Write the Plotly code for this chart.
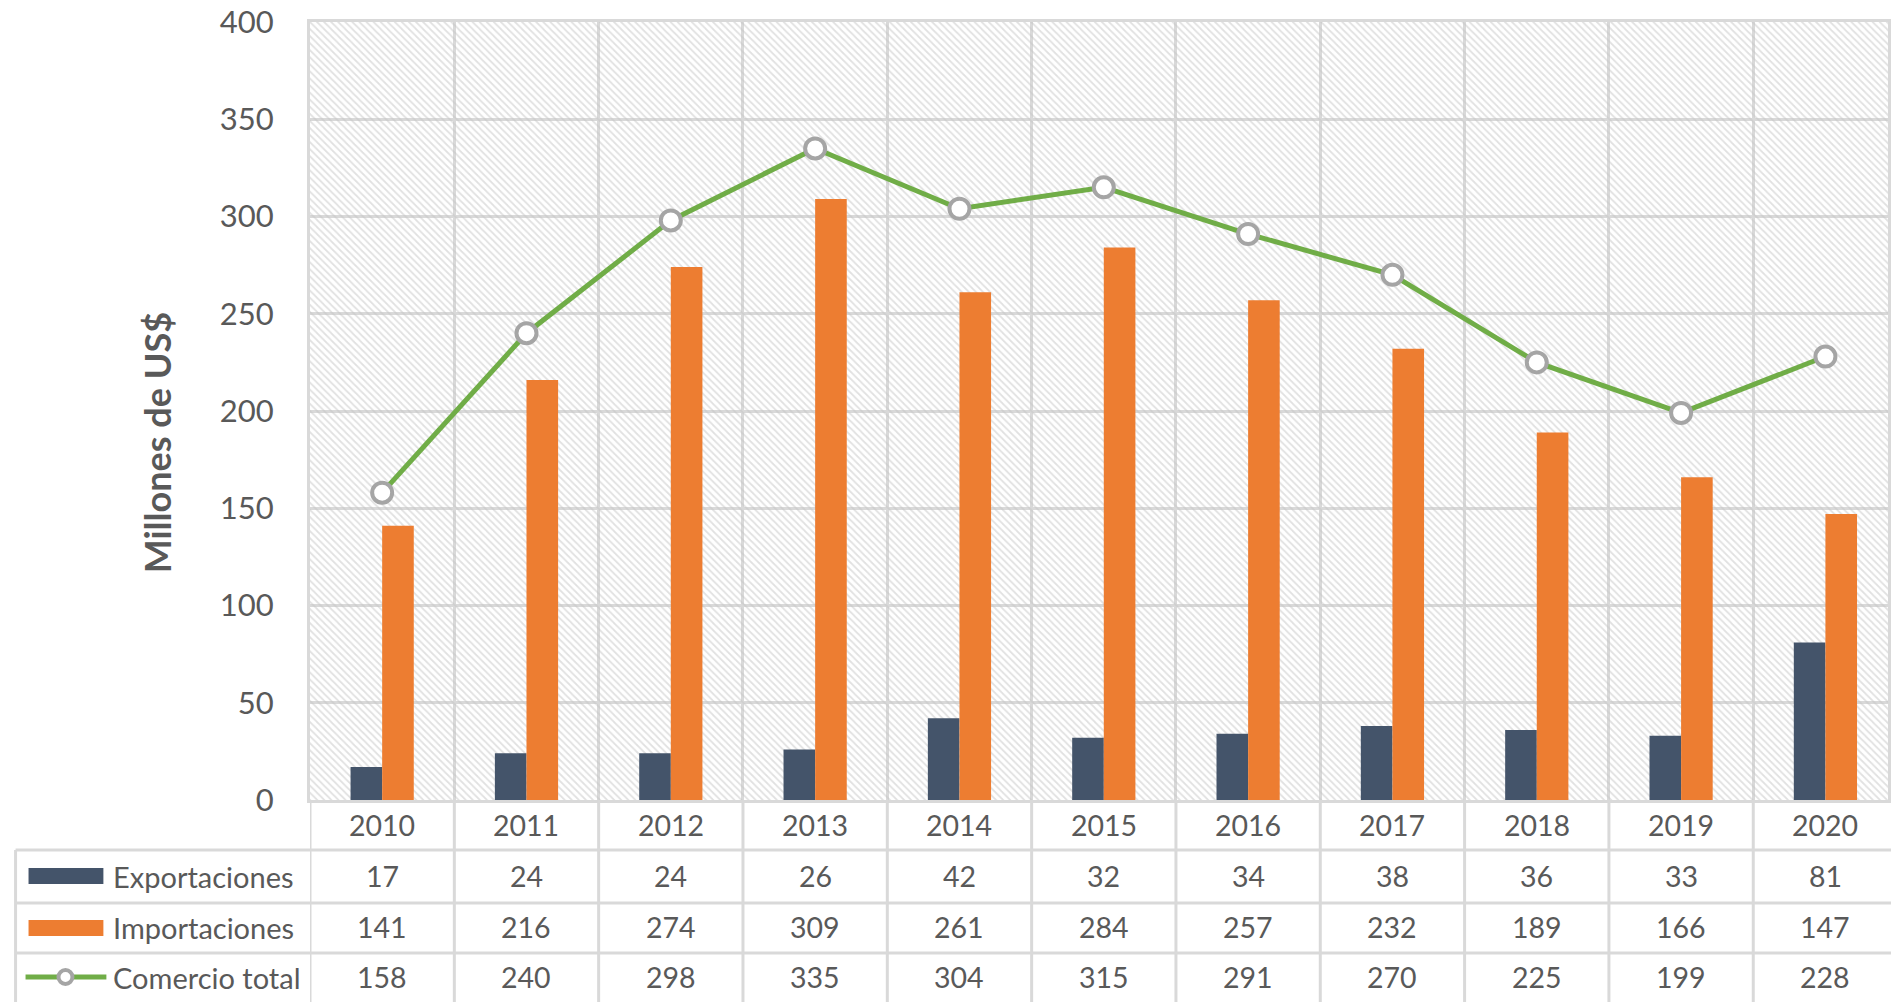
import plotly.graph_objects as go

# ---------------- data ----------------
years = ["2010", "2011", "2012", "2013", "2014", "2015", "2016", "2017", "2018", "2019", "2020"]
exportaciones = [17, 24, 24, 26, 42, 32, 34, 38, 36, 33, 81]
importaciones = [141, 216, 274, 309, 261, 284, 257, 232, 189, 166, 147]
comercio_total = [158, 240, 298, 335, 304, 315, 291, 270, 225, 199, 228]
y_ticks = [0, 50, 100, 150, 200, 250, 300, 350, 400]
row_names = ["Exportaciones", "Importaciones", "Comercio total"]
y_title = "Millones de US$"

# ---------------- styling / geometry ----------------
W, H = 1891, 1002
L, T, B = 310, 22, 800          # plot area pixel bounds
plot_h = B - T
cat_w = 144.6                   # pixel width of one category
x_max = (W - L) / cat_w - 0.5
bw = 0.219                      # bar width (category units)

C_EXP = "#44546A"
C_IMP = "#ED7D31"
C_TOT = "#70AD47"
C_GRID = "#D9D9D9"
C_TXT = "#595959"
FONT = "Lato"


def py(p):
    return (B - p) / plot_h


def px(p):
    return (p - L) / (W - L)


n = len(years)
idx = list(range(n))

fig = go.Figure()

# hatched background of the plot area
fig.add_trace(go.Bar(
    x=idx, y=[y_ticks[-1]] * n, width=1,
    marker=dict(color="rgba(0,0,0,0)", line_width=0,
                pattern=dict(shape="\\", fgcolor="#c4c4c4", bgcolor="rgba(0,0,0,0)",
                             size=5, solidity=0.35)),
    hoverinfo="skip", showlegend=False,
))

fig.add_trace(go.Bar(
    x=idx, y=exportaciones, width=bw, offset=-bw, name=row_names[0],
    marker=dict(color=C_EXP, line_width=0), showlegend=False,
))
fig.add_trace(go.Bar(
    x=idx, y=importaciones, width=bw, offset=0, name=row_names[1],
    marker=dict(color=C_IMP, line_width=0), showlegend=False,
))
fig.add_trace(go.Scatter(
    x=idx, y=comercio_total, mode="lines+markers", name=row_names[2],
    line=dict(color=C_TOT, width=5),
    marker=dict(symbol="circle", size=20, color="white", line=dict(color="#A5A5A5", width=4)),
    showlegend=False,
))

shapes = []
annotations = []

# table horizontal lines
for yy in [850, 903, 953]:
    shapes.append(dict(type="line", xref="paper", yref="paper",
                       x0=px(15), x1=1.02, y0=py(yy), y1=py(yy),
                       line=dict(color=C_GRID, width=3)))
# table left border
shapes.append(dict(type="line", xref="paper", yref="paper",
                   x0=px(15), x1=px(15), y0=py(850), y1=py(1010),
                   line=dict(color=C_GRID, width=3)))
# table vertical lines at category boundaries
for i in range(n + 1):
    shapes.append(dict(type="line", xref="x", yref="paper",
                       x0=i - 0.5, x1=i - 0.5, y0=0, y1=py(1010),
                       line=dict(color=C_GRID, width=3)))

# legend keys
shapes.append(dict(type="rect", xref="paper", yref="paper",
                   x0=px(28), x1=px(103), y0=py(884), y1=py(868),
                   fillcolor=C_EXP, line_width=0))
shapes.append(dict(type="rect", xref="paper", yref="paper",
                   x0=px(28), x1=px(103), y0=py(936), y1=py(920),
                   fillcolor=C_IMP, line_width=0))
shapes.append(dict(type="line", xref="paper", yref="paper",
                   x0=px(25), x1=px(106), y0=py(977), y1=py(977),
                   line=dict(color=C_TOT, width=5)))
shapes.append(dict(type="circle", xref="paper", yref="paper",
                   x0=px(58), x1=px(72), y0=py(984), y1=py(970),
                   fillcolor="white", line=dict(color="#A5A5A5", width=4)))

tfont = dict(family=FONT, size=28.5, color=C_TXT)

# year row
for i, yr in enumerate(years):
    annotations.append(dict(x=i, y=py(825), xref="x", yref="paper", text=yr,
                            showarrow=False, font=tfont, xanchor="center", yanchor="middle"))
# value rows
for row_y, vals in zip([876, 927, 977], [exportaciones, importaciones, comercio_total]):
    for i, v in enumerate(vals):
        annotations.append(dict(x=i, y=py(row_y), xref="x", yref="paper", text=str(v),
                                showarrow=False, font=tfont, xanchor="center", yanchor="middle"))
# row names
for row_y, name in zip([876, 927, 977], row_names):
    annotations.append(dict(x=px(111), y=py(row_y), xref="paper", yref="paper", text=name,
                            showarrow=False, font=dict(family=FONT, size=29, color=C_TXT),
                            xanchor="left", yanchor="middle"))

# y-axis title
annotations.append(dict(x=px(157), y=py(443), xref="paper", yref="paper",
                        text="<b>" + y_title + "</b>", textangle=-90, showarrow=False,
                        font=dict(family=FONT, size=36, color=C_TXT),
                        xanchor="center", yanchor="middle"))

fig.update_layout(
    width=W, height=H,
    margin=dict(l=L, r=0, t=T, b=H - B, pad=0),
    plot_bgcolor="white", paper_bgcolor="white",
    barmode="overlay",
    showlegend=False,
    shapes=shapes,
    annotations=annotations,
    font=dict(family=FONT, color=C_TXT),
    xaxis=dict(
        range=[-0.5, x_max],
        tickvals=[i - 0.5 for i in range(n + 1)],
        showticklabels=False, ticks="",
        showgrid=True, gridcolor=C_GRID, gridwidth=3,
        showline=True, linecolor=C_GRID, linewidth=3, mirror=True,
        zeroline=False, fixedrange=True,
    ),
    yaxis=dict(
        range=[y_ticks[0], y_ticks[-1]],
        tickvals=y_ticks,
        tickfont=dict(family=FONT, size=31, color=C_TXT),
        ticks="outside", ticklen=27, tickcolor="rgba(0,0,0,0)",
        showgrid=True, gridcolor=C_GRID, gridwidth=3,
        showline=True, linecolor=C_GRID, linewidth=3, mirror=True,
        zeroline=False, fixedrange=True,
    ),
)

fig.write_html("out.html", config={"displayModeBar": False},
               post_script="document.body.style.margin='0';")
